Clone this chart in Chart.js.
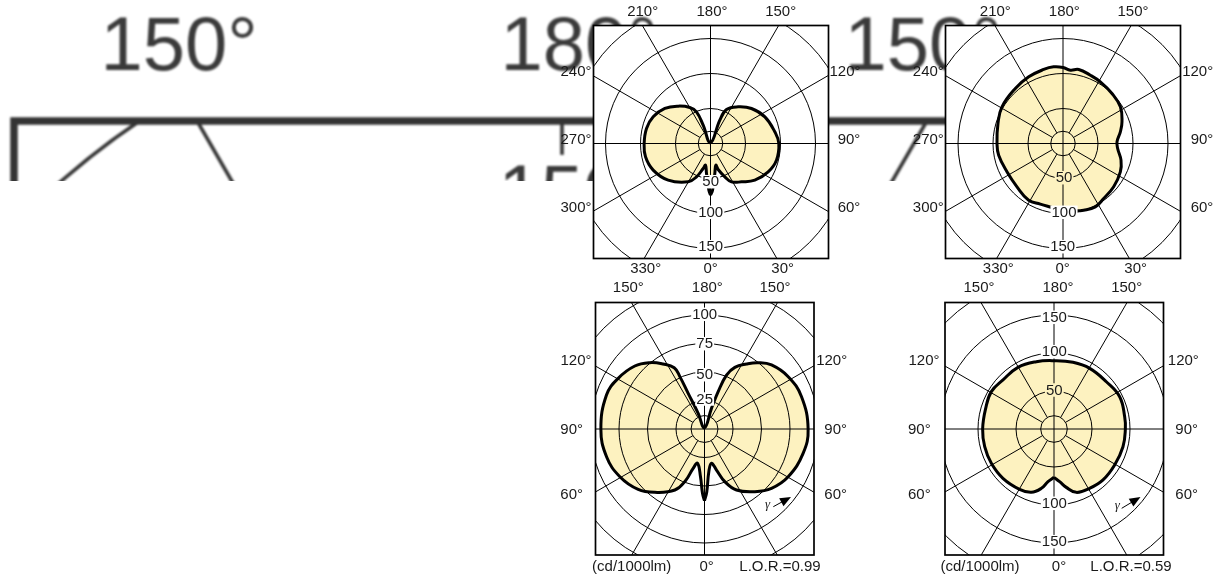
<!DOCTYPE html>
<html>
<head>
<meta charset="utf-8">
<title>Light distribution diagrams</title>
<script src="https://cdn.jsdelivr.net/npm/chart.js@4"></script>
<style>
html, body { margin: 0; padding: 0; background: #fff; overflow: hidden; }
canvas { position: absolute; display: block; }
#backdrop { position: absolute; left: 0; top: 0; width: 1232px; height: 181px; overflow: hidden; }
#backdrop canvas { filter: blur(1.3px); }
</style>
</head>
<body>
<div id="backdrop"><canvas id="c0" width="1232" height="200"></canvas></div>
<canvas id="c1" width="310" height="277"></canvas>
<canvas id="c2" width="320" height="277"></canvas>
<canvas id="c3" width="310" height="306"></canvas>
<canvas id="c4" width="320" height="306"></canvas>
<script>
// curves: gamma angle (deg) and intensity (cd/1000lm)
const angles1 = [0, 2.5, 8.2, 13.8, 16.4, 23.3, 28.7, 39, 50.4, 63.8, 75.8, 90, 100.3, 116.1, 130.5, 143, 154.8, 158.2, 180, 201.8, 203.9, 209.9, 220.9, 232.5, 245, 256.8, 270, 281.6, 294.9, 310.9, 329.8, 337.2, 343.7, 347, 352.4, 358, 360];
const values1 = [73.8, 66.8, 43.3, 31.9, 38.7, 51.8, 62.4, 70.4, 82.2, 91.8, 97.2, 97.6, 93.4, 86.5, 77, 65.6, 53.7, 35.9, 1, 28.2, 49.5, 59.3, 70.6, 82.2, 90.3, 93.9, 94.8, 94.8, 90.3, 80, 63.4, 51.6, 37.2, 31.8, 43.2, 66.7, 73.8];

const angles2 = [0, 9, 17.2, 27, 36.5, 49.5, 63.7, 74, 84.8, 91.8, 101.5, 110.2, 122.6, 135.6, 148.8, 158.2, 168, 174.3, 180, 187, 194.6, 207.2, 220.9, 239, 252.9, 270, 280.3, 296.8, 313.3, 328.8, 339.5, 350.2, 360];
const values2 = [96, 97.4, 99.7, 101.6, 97.7, 95.2, 91.4, 86.2, 78.4, 77.2, 83.6, 89.8, 97.3, 100, 103, 105.1, 108, 105.3, 108.6, 110.3, 109.3, 107.1, 104, 101.7, 97.2, 94.3, 93.4, 89.7, 90.3, 94.7, 92.5, 92.8, 96];

const angles3 = [0, 2.1, 5.8, 11.5, 16.3, 21.1, 27.7, 38.8, 48.5, 60.3, 76.1, 90, 108.4, 122, 133.7, 141, 147.1, 153.8, 157.8, 159.9, 161.3, 180, 202, 204.6, 205.2, 206.3, 212.5, 219.5, 227.9, 239.6, 250.9, 270, 285.8, 299.4, 312.3, 321.9, 334.1, 339.8, 343.9, 348.5, 355.2, 358.2, 360];
const values3 = [62.9, 55, 37.6, 30.7, 37.5, 49.5, 60.4, 70.5, 78.5, 84.5, 89.1, 90.9, 89.7, 86.6, 81.3, 74.8, 67.9, 60.3, 51.1, 34.9, 19.1, 1, 14.8, 34.4, 50.8, 60, 67.6, 75.4, 82.4, 87.8, 91, 90.9, 89.3, 85.2, 78.7, 70.6, 59.5, 48.3, 35.9, 30.7, 42, 56.4, 62.9];

const angles4 = [0, 6.1, 11.9, 19.4, 31, 43.9, 59.3, 75.6, 90, 99.9, 116.2, 132.1, 149.5, 164.1, 180, 194.7, 210.3, 226.1, 239.2, 253.2, 270, 284.3, 298.7, 314, 330.3, 340.3, 348, 353.5, 360];
const values4 = [63.6, 69.7, 78.5, 88.4, 91.1, 93, 92.8, 93.7, 93.9, 94.4, 96.3, 92.8, 92.6, 91.2, 89.9, 91.6, 94, 93.1, 96, 93.9, 93.9, 94.1, 94, 93.4, 91.4, 88.5, 79.8, 69.7, 63.6];

// grid circles and spokes
const rings1 = [50, 100, 150, 200];
const rings3 = [25, 50, 75, 100, 125];
const rings4 = [50, 100, 150, 200];
const spokeAngles = [30, 60, 120, 150, 210, 240, 300, 330];

// text
const angleLabels1 = ['210°', '180°', '150°', '240°', '270°', '300°', '120°', '90°', '60°', '330°', '0°', '30°'];
const angleLabels3 = ['150°', '180°', '150°', '120°', '90°', '60°', '120°', '90°', '60°', '(cd/1000lm)', '0°'];
const radialLabels1 = ['50', '100', '150'];
const radialLabels3 = ['100', '75', '50', '25'];
const radialLabels4 = ['150', '100', '50', '100', '150'];
const backdropLabels = ['150°', '180°', '150°'];
const backdropRadial = ['150'];
const lorLabels = ['L.O.R.=0.99', 'L.O.R.=0.59'];

const FONT = '"Liberation Sans", Arial, sans-serif';
const CREAM = '#fdf2c0';

function polarPoints(angles, values) {
    return angles.map((a, i) => {
        const t = a * Math.PI / 180;
        return { x: values[i] * Math.sin(t), y: -values[i] * Math.cos(t) };
    });
}

function drawLabel(ctx, text, x, y, size, color, back, backH) {
    ctx.font = size + 'px ' + FONT;
    ctx.textAlign = 'center';
    ctx.textBaseline = 'middle';
    if (back) {
        const w = ctx.measureText(text).width + size * 0.14;
        ctx.fillStyle = back;
        ctx.fillRect(x - w / 2, y - size * backH / 2, w, size * backH);
    }
    ctx.fillStyle = color;
    ctx.fillText(text, x, y + size * 0.04);
}

// draws the frame, circles, spokes and texts of one diagram around the library's scales
const polarPlugin = {
    id: 'polarPanel',
    beforeDatasetsDraw(chart) {
        const p = chart.config.options.plugins.polarPanel;
        const ctx = chart.ctx;
        const cx = chart.scales.x.getPixelForValue(0);
        const cy = chart.scales.y.getPixelForValue(0);
        const unit = chart.scales.x.getPixelForValue(1) - cx;
        const b = p.box;

        ctx.save();
        ctx.translate(-p.left, -p.top);
        ctx.fillStyle = '#fff';
        ctx.fillRect(b[0], b[1], b[2] - b[0], b[3] - b[1]);
        ctx.restore();

        // the curve's filling goes under the grid
        const line = chart.getDatasetMeta(0).dataset;
        ctx.save();
        line.updateControlPoints(chart.chartArea, 'x');
        ctx.beginPath();
        line.path(ctx);
        ctx.closePath();
        ctx.fillStyle = CREAM;
        ctx.fill();
        ctx.restore();

        ctx.save();
        ctx.translate(-p.left, -p.top);
        ctx.beginPath();
        ctx.rect(b[0], b[1], b[2] - b[0], b[3] - b[1]);
        ctx.clip();
        ctx.translate(p.left, p.top);
        ctx.strokeStyle = p.lineColor;
        ctx.lineWidth = p.gridWidth;

        p.rings.concat([p.inner]).forEach(r => {
            ctx.beginPath();
            ctx.arc(cx, cy, r * unit, 0, Math.PI * 2);
            ctx.stroke();
        });
        const far = 1000 * p.scale;
        spokeAngles.forEach(a => {
            const t = a * Math.PI / 180;
            ctx.beginPath();
            ctx.moveTo(cx + Math.sin(t) * p.inner * unit, cy + Math.cos(t) * p.inner * unit);
            ctx.lineTo(cx + Math.sin(t) * far, cy + Math.cos(t) * far);
            ctx.stroke();
        });
        ctx.beginPath();
        ctx.moveTo(cx - far, cy);
        ctx.lineTo(cx + far, cy);
        ctx.moveTo(cx, cy - far);
        ctx.lineTo(cx, cy + far);
        ctx.stroke();
        ctx.restore();
    },
    afterDatasetsDraw(chart) {
        const p = chart.config.options.plugins.polarPanel;
        const ctx = chart.ctx;
        const b = p.box;
        ctx.save();
        ctx.translate(-p.left, -p.top);

        p.radial.forEach((t, i) => {
            const pos = p.radialPos[i];
            drawLabel(ctx, t, pos[0], pos[1], p.fontSize, p.textColor, p.radialBack[i], p.backH);
        });

        ctx.strokeStyle = p.lineColor;
        ctx.lineWidth = p.boxWidth;
        ctx.strokeRect(b[0], b[1], b[2] - b[0], b[3] - b[1]);

        p.labels.forEach((t, i) => {
            const pos = p.labelPos[i];
            drawLabel(ctx, t, pos[0], pos[1], p.fontSize, p.textColor);
        });

        if (p.arrow) {
            const a = p.arrow;
            const ang = Math.atan2(a[3] - a[1], a[2] - a[0]);
            ctx.strokeStyle = '#000';
            ctx.fillStyle = '#000';
            ctx.lineWidth = 1;
            ctx.beginPath();
            ctx.moveTo(a[0], a[1]);
            ctx.lineTo(a[2] - 6 * Math.cos(ang), a[3] - 6 * Math.sin(ang));
            ctx.stroke();
            ctx.translate(a[2], a[3]);
            ctx.rotate(ang);
            ctx.beginPath();
            ctx.moveTo(0, 0);
            ctx.lineTo(-11, -4.5);
            ctx.lineTo(-11, 4.5);
            ctx.closePath();
            ctx.fill();
            ctx.rotate(-ang);
            ctx.translate(-a[2], -a[3]);
            ctx.fillStyle = '#222';
            ctx.font = 'italic 13px "Liberation Serif", serif';
            ctx.textAlign = 'center';
            ctx.textBaseline = 'middle';
            ctx.fillText('γ', a[4], a[5]);
        }
        ctx.restore();
    }
};

function makePanel(id, angles, values, p) {
    const el = document.getElementById(id);
    if (id !== 'c0') {
        el.style.left = p.left + 'px';
        el.style.top = p.top + 'px';
    }
    const ox = p.cx - p.left, oy = p.cy - p.top;
    return new Chart(el, {
        type: 'scatter',
        data: {
            datasets: [{
                data: polarPoints(angles, values),
                showLine: true,
                borderColor: '#000',
                borderWidth: p.curveWidth,
                borderJoinStyle: 'round',
                tension: 0.42,
                pointRadius: 0,
                fill: false
            }]
        },
        options: {
            responsive: false,
            animation: false,
            events: [],
            layout: { padding: 0 },
            scales: {
                x: { display: false, min: -ox / p.k, max: (el.width - ox) / p.k },
                y: { display: false, min: -(el.height - oy) / p.k, max: oy / p.k }
            },
            plugins: {
                legend: { display: false },
                tooltip: { enabled: false },
                polarPanel: p
            }
        },
        plugins: [polarPlugin]
    });
}

const common = { scale: 1, gridWidth: 1, boxWidth: 1.7, curveWidth: 3, fontSize: 15, backH: 0.9, lineColor: '#000', textColor: '#1a1a1a' };

// enlarged copy of the last diagram, cut off and blurred, behind everything
makePanel('c0', angles4, values4, Object.assign({}, common, {
    left: 0, top: 0, cx: 562, cy: 753, k: 3.8, scale: 5,
    gridWidth: 3.6, boxWidth: 7.5, curveWidth: 12, fontSize: 76, backH: 1.03, lineColor: '#333', textColor: '#3a3a3a',
    box: [14, 121, 1108, 1385], rings: rings4, inner: 17.5,
    radial: backdropRadial, radialPos: [[562, 194]], radialBack: ['#fff'],
    labels: backdropLabels, labelPos: [[179, 46], [579, 46], [923, 46]]
}));

makePanel('c1', angles1, values1, Object.assign({}, common, {
    left: 555, top: 0, cx: 710.5, cy: 143.5, k: 0.7,
    box: [593.5, 25.5, 828.5, 258.5], rings: rings1, inner: 17.5,
    radial: radialLabels1, radialPos: [[710.7, 181.7], [710.7, 212.3], [710.7, 246.7]], radialBack: ['#fff', '#fff', '#fff'],
    labels: angleLabels1,
    labelPos: [[642.7, 11.7], [712, 11.7], [780.7, 11.7], [576, 71], [576, 139.7], [576, 207.3], [845, 71], [849, 139.7], [849, 207.3], [645.7, 268.3], [710.7, 268.3], [782.7, 268.3]]
}));

makePanel('c2', angles2, values2, Object.assign({}, common, {
    left: 905, top: 0, cx: 1063, cy: 143.5, k: 0.7,
    box: [945.5, 25.5, 1180.5, 258.5], rings: rings1, inner: 17.5,
    radial: radialLabels1, radialPos: [[1064, 177.7], [1064, 212.3], [1062.7, 246.7]], radialBack: [CREAM, '#fff', '#fff'],
    labels: angleLabels1,
    labelPos: [[995.3, 11.7], [1064.3, 11.7], [1133, 11.7], [928.3, 71], [928.3, 139.7], [928.3, 207.3], [1197.7, 71], [1202, 139.7], [1202, 207.3], [998.3, 268.3], [1062.7, 268.3], [1135.7, 268.3]]
}));

makePanel('c3', angles3, values3, Object.assign({}, common, {
    left: 555, top: 277, cx: 704.5, cy: 429, k: 1.14,
    box: [595.5, 302.5, 814, 555], rings: rings3, inner: 11.8,
    radial: radialLabels3, radialPos: [[704.7, 314.3], [704.7, 343.7], [704.7, 374.7], [704.7, 399]], radialBack: ['#fff', '#fff', '#fff', '#fff'],
    labels: angleLabels3.concat(lorLabels[0]),
    labelPos: [[628.3, 287.3], [707.3, 287.3], [775, 287.3], [576, 360.7], [571.7, 429], [571.7, 494.3], [831.7, 360.7], [835.7, 429], [835.7, 494.3], [631.7, 566.7], [706.7, 566.7], [780, 566.7]],
    arrow: [773.3, 506.7, 791, 497, 767.5, 505]
}));

makePanel('c4', angles4, values4, Object.assign({}, common, {
    left: 905, top: 277, cx: 1054, cy: 429, k: 0.76,
    box: [945, 302.5, 1163.5, 555], rings: rings4, inner: 17.5,
    radial: radialLabels4, radialPos: [[1054.3, 317.3], [1054.3, 351.7], [1054.3, 390], [1054.3, 503.3], [1054.3, 541.7]], radialBack: ['#fff', '#fff', CREAM, '#fff', '#fff'],
    labels: angleLabels3.concat(lorLabels[1]),
    labelPos: [[979, 287.3], [1058, 287.3], [1126.7, 287.3], [924, 360.7], [919.3, 429], [919.3, 494.3], [1183.3, 360.7], [1186.7, 429], [1186.7, 494.3], [980, 566.7], [1059, 566.7], [1131, 566.7]],
    arrow: [1121.7, 508.3, 1140.5, 497, 1117.3, 506]
}));
</script>
</body>
</html>
